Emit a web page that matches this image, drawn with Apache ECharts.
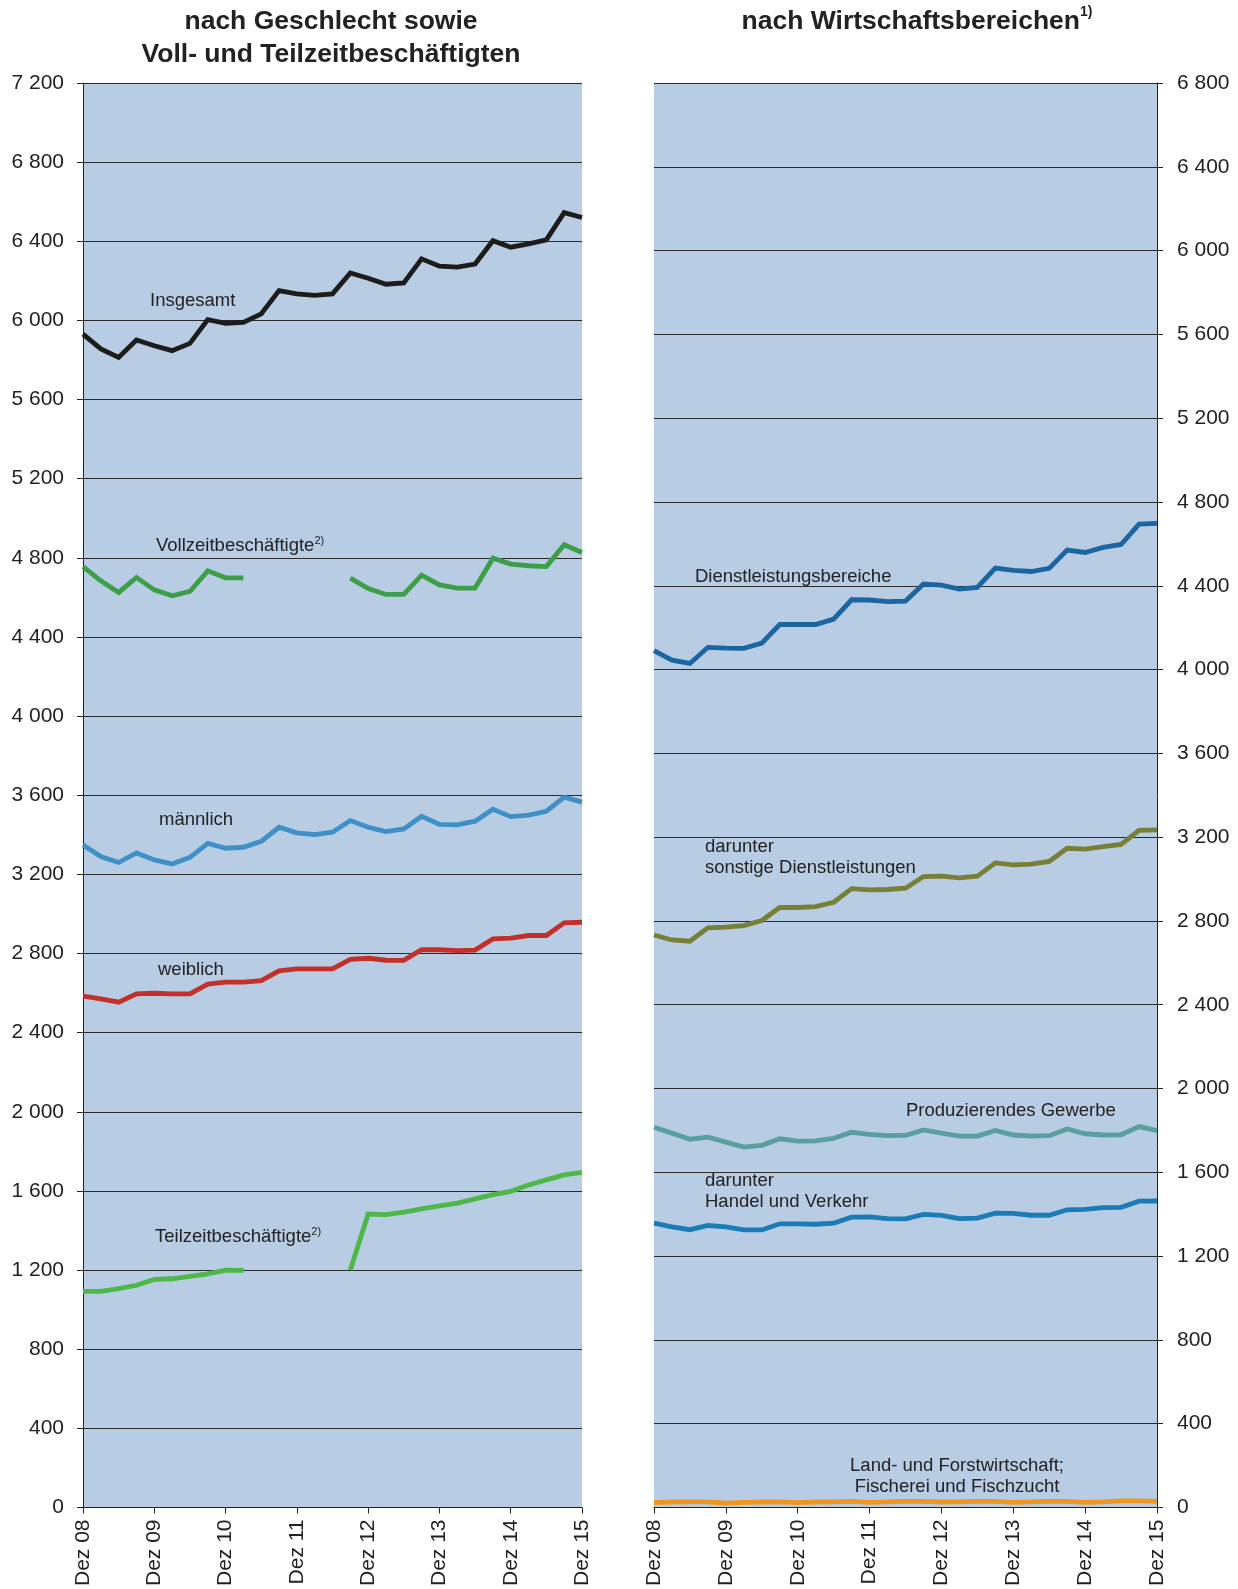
<!DOCTYPE html>
<html>
<head>
<meta charset="utf-8">
<script src="https://cdn.jsdelivr.net/npm/echarts@6/dist/echarts.min.js"></script>
<style>
html,body{margin:0;padding:0;background:#fff;}
#chart{width:1238px;height:1589px;}
</style>
</head>
<body>
<div id="chart"></div>
<script>
// Quarterly categories (Dez 08 .. Dez 15)
const categories = ['Dez 08','Mär 09','Jun 09','Sep 09','Dez 09','Mär 10','Jun 10','Sep 10','Dez 10','Mär 11','Jun 11','Sep 11','Dez 11','Mär 12','Jun 12','Sep 12','Dez 12','Mär 13','Jun 13','Sep 13','Dez 13','Mär 14','Jun 14','Sep 14','Dez 14','Mär 15','Jun 15','Sep 15','Dez 15'];

// Left panel: nach Geschlecht sowie Voll- und Teilzeitbeschäftigten
const insgesamt = [5931,5856,5813,5901,5872,5847,5884,6004,5985,5990,6033,6151,6134,6127,6134,6240,6213,6183,6189,6311,6274,6269,6285,6403,6370,6387,6407,6545,6520];
const vollzeit = [4756,4684,4625,4701,4638,4608,4630,4734,4699,4699,null,null,null,null,null,4697,4645,4615,4615,4712,4663,4647,4647,4798,4768,4760,4756,4866,4827];
const maennlich = [3349,3290,3260,3308,3273,3253,3286,3357,3332,3337,3367,3438,3410,3401,3413,3472,3438,3416,3430,3494,3453,3450,3469,3529,3492,3499,3519,3590,3565];
const weiblich = [2584,2571,2554,2596,2599,2596,2596,2645,2655,2655,2663,2712,2722,2722,2722,2770,2776,2766,2765,2819,2819,2815,2817,2874,2878,2891,2891,2955,2958];
const teilzeit = [1092,1092,1106,1123,1153,1156,1168,1181,1200,1198,null,null,null,null,null,1200,1483,1480,1493,1509,1524,1538,1560,1581,1598,1630,1656,1681,1694];

// Right panel: nach Wirtschaftsbereichen
const dienstleistung = [4090,4045,4029,4106,4102,4101,4126,4215,4215,4215,4241,4333,4332,4324,4327,4408,4403,4384,4392,4484,4473,4468,4483,4570,4559,4583,4597,4694,4698];
const sonstige = [2733,2709,2703,2767,2770,2778,2802,2864,2864,2868,2889,2954,2948,2950,2956,3012,3014,3006,3014,3077,3068,3071,3084,3147,3143,3155,3165,3232,3235];
const produzierend = [1815,1787,1758,1768,1744,1720,1729,1760,1749,1750,1762,1791,1781,1775,1776,1802,1787,1773,1773,1800,1778,1773,1775,1807,1784,1778,1779,1818,1799];
const handel = [1357,1339,1326,1346,1339,1325,1325,1354,1354,1352,1357,1386,1387,1379,1378,1399,1394,1379,1381,1405,1404,1395,1395,1421,1423,1431,1433,1462,1463];
const landwirtschaft = [23,26,27,27,21,24,26,27,23,26,27,29,24,27,29,29,26,27,29,29,24,27,29,29,24,27,31,31,29];

// Axis ranges
const leftAxis = {min:0, max:7200, interval:400};
const rightAxis = {min:0, max:6800, interval:400};

const FONT = 'Liberation Sans, Arial, sans-serif';
const fmt = v => v >= 1000 ? Math.floor(v/1000) + ' ' + String(v % 1000).padStart(3,'0') : String(v);

function xAxisCfg(gridIndex){
  return {
    type:'category', gridIndex, data:categories, boundaryGap:false,
    axisLine:{show:true, lineStyle:{color:'#222', width:1}},
    axisTick:{show:true, interval:3, length:6, lineStyle:{color:'#222'}},
    axisLabel:{interval:3, rotate:90, margin:12, fontFamily:FONT, fontSize:21, color:'#222'},
    splitLine:{show:false}
  };
}
function yAxisCfg(gridIndex, rng, pos, margin){
  return {
    type:'value', gridIndex, position:pos, min:rng.min, max:rng.max, interval:rng.interval,
    axisLine:{show:true, lineStyle:{color:'#222', width:1}},
    axisTick:{show:true, length:6, lineStyle:{color:'#222'}},
    axisLabel:{margin, fontFamily:FONT, fontSize:21, color:'#222', formatter:fmt,
               align: pos === 'right' ? 'left' : 'right'},
    splitLine:{show:true, lineStyle:{color:'#2a2a2a', width:1}}
  };
}
function line(name, data, color, xi){
  return {
    name, type:'line', data, xAxisIndex:xi, yAxisIndex:xi, symbol:'none',
    connectNulls:false, silent:true,
    lineStyle:{color, width:4.8, cap:'butt', join:'miter'}
  };
}
function label(text, x, y, extra){
  return Object.assign({
    type:'text', x, y, z:100,
    style:Object.assign({
      text, fontFamily:FONT, fontSize:18.5, fill:'#222',
      align:'left', textAlign:'left', verticalAlign:'middle', textVerticalAlign:'middle',
      lineHeight:21,
      rich:{sup:{fontSize:11, verticalAlign:'top', fill:'#222', fontFamily:FONT}}
    }, extra || {})
  });
}

const chart = echarts.init(document.getElementById('chart'), null, {renderer:'canvas'});
const option = {
  animation:false,
  backgroundColor:'#ffffff',
  grid:[
    {left:83, top:83, width:499, height:1425.5, show:true, backgroundColor:'#b8cce4', borderWidth:0},
    {left:654, top:83, width:503, height:1425.5, show:true, backgroundColor:'#b8cce4', borderWidth:0}
  ],
  xAxis:[xAxisCfg(0), xAxisCfg(1)],
  yAxis:[yAxisCfg(0, leftAxis, 'left', 19), yAxisCfg(1, rightAxis, 'right', 20)],
  series:[
    line('Insgesamt', insgesamt, '#1c1c1a', 0),
    line('Vollzeitbeschäftigte', vollzeit, '#3c9f48', 0),
    line('männlich', maennlich, '#3f90c6', 0),
    line('weiblich', weiblich, '#c3302a', 0),
    line('Teilzeitbeschäftigte', teilzeit, '#4db848', 0),
    line('Dienstleistungsbereiche', dienstleistung, '#1b65a1', 1),
    line('sonstige Dienstleistungen', sonstige, '#787f37', 1),
    line('Produzierendes Gewerbe', produzierend, '#5b9e9e', 1),
    line('Handel und Verkehr', handel, '#1a7cb7', 1),
    line('Land- und Forstwirtschaft', landwirtschaft, '#f0961e', 1)
  ],
  graphic:[
    {type:'text', x:331, y:5, z:100, style:{text:'nach Geschlecht sowie\nVoll- und Teilzeitbeschäftigten',
      fontFamily:FONT, fontWeight:'bold', fontSize:26.5, lineHeight:33, fill:'#222',
      align:'center', textAlign:'center', verticalAlign:'top', textVerticalAlign:'top'}},
    {type:'text', x:917, y:5, z:100, style:{text:'nach Wirtschaftsbereichen{sup|1)}',
      fontFamily:FONT, fontWeight:'bold', fontSize:26.5, lineHeight:33, fill:'#222',
      align:'center', textAlign:'center', verticalAlign:'top', textVerticalAlign:'top',
      rich:{sup:{fontSize:14, fontWeight:'bold', verticalAlign:'top', lineHeight:18, fill:'#222', fontFamily:FONT}}}},
    label('Insgesamt', 150, 301),
    label('Vollzeitbeschäftigte{sup|2)}', 156, 546),
    label('männlich', 159, 820),
    label('weiblich', 158, 970),
    label('Teilzeitbeschäftigte{sup|2)}', 155, 1237),
    label('Dienstleistungsbereiche', 695, 577),
    label('darunter\nsonstige Dienstleistungen', 705, 857),
    label('Produzierendes Gewerbe', 906, 1111),
    label('darunter\nHandel und Verkehr', 705, 1191),
    label('Land- und Forstwirtschaft;\nFischerei und Fischzucht', 957, 1476, {align:'center', textAlign:'center'})
  ]
};
chart.setOption(option);
</script>
</body>
</html>
